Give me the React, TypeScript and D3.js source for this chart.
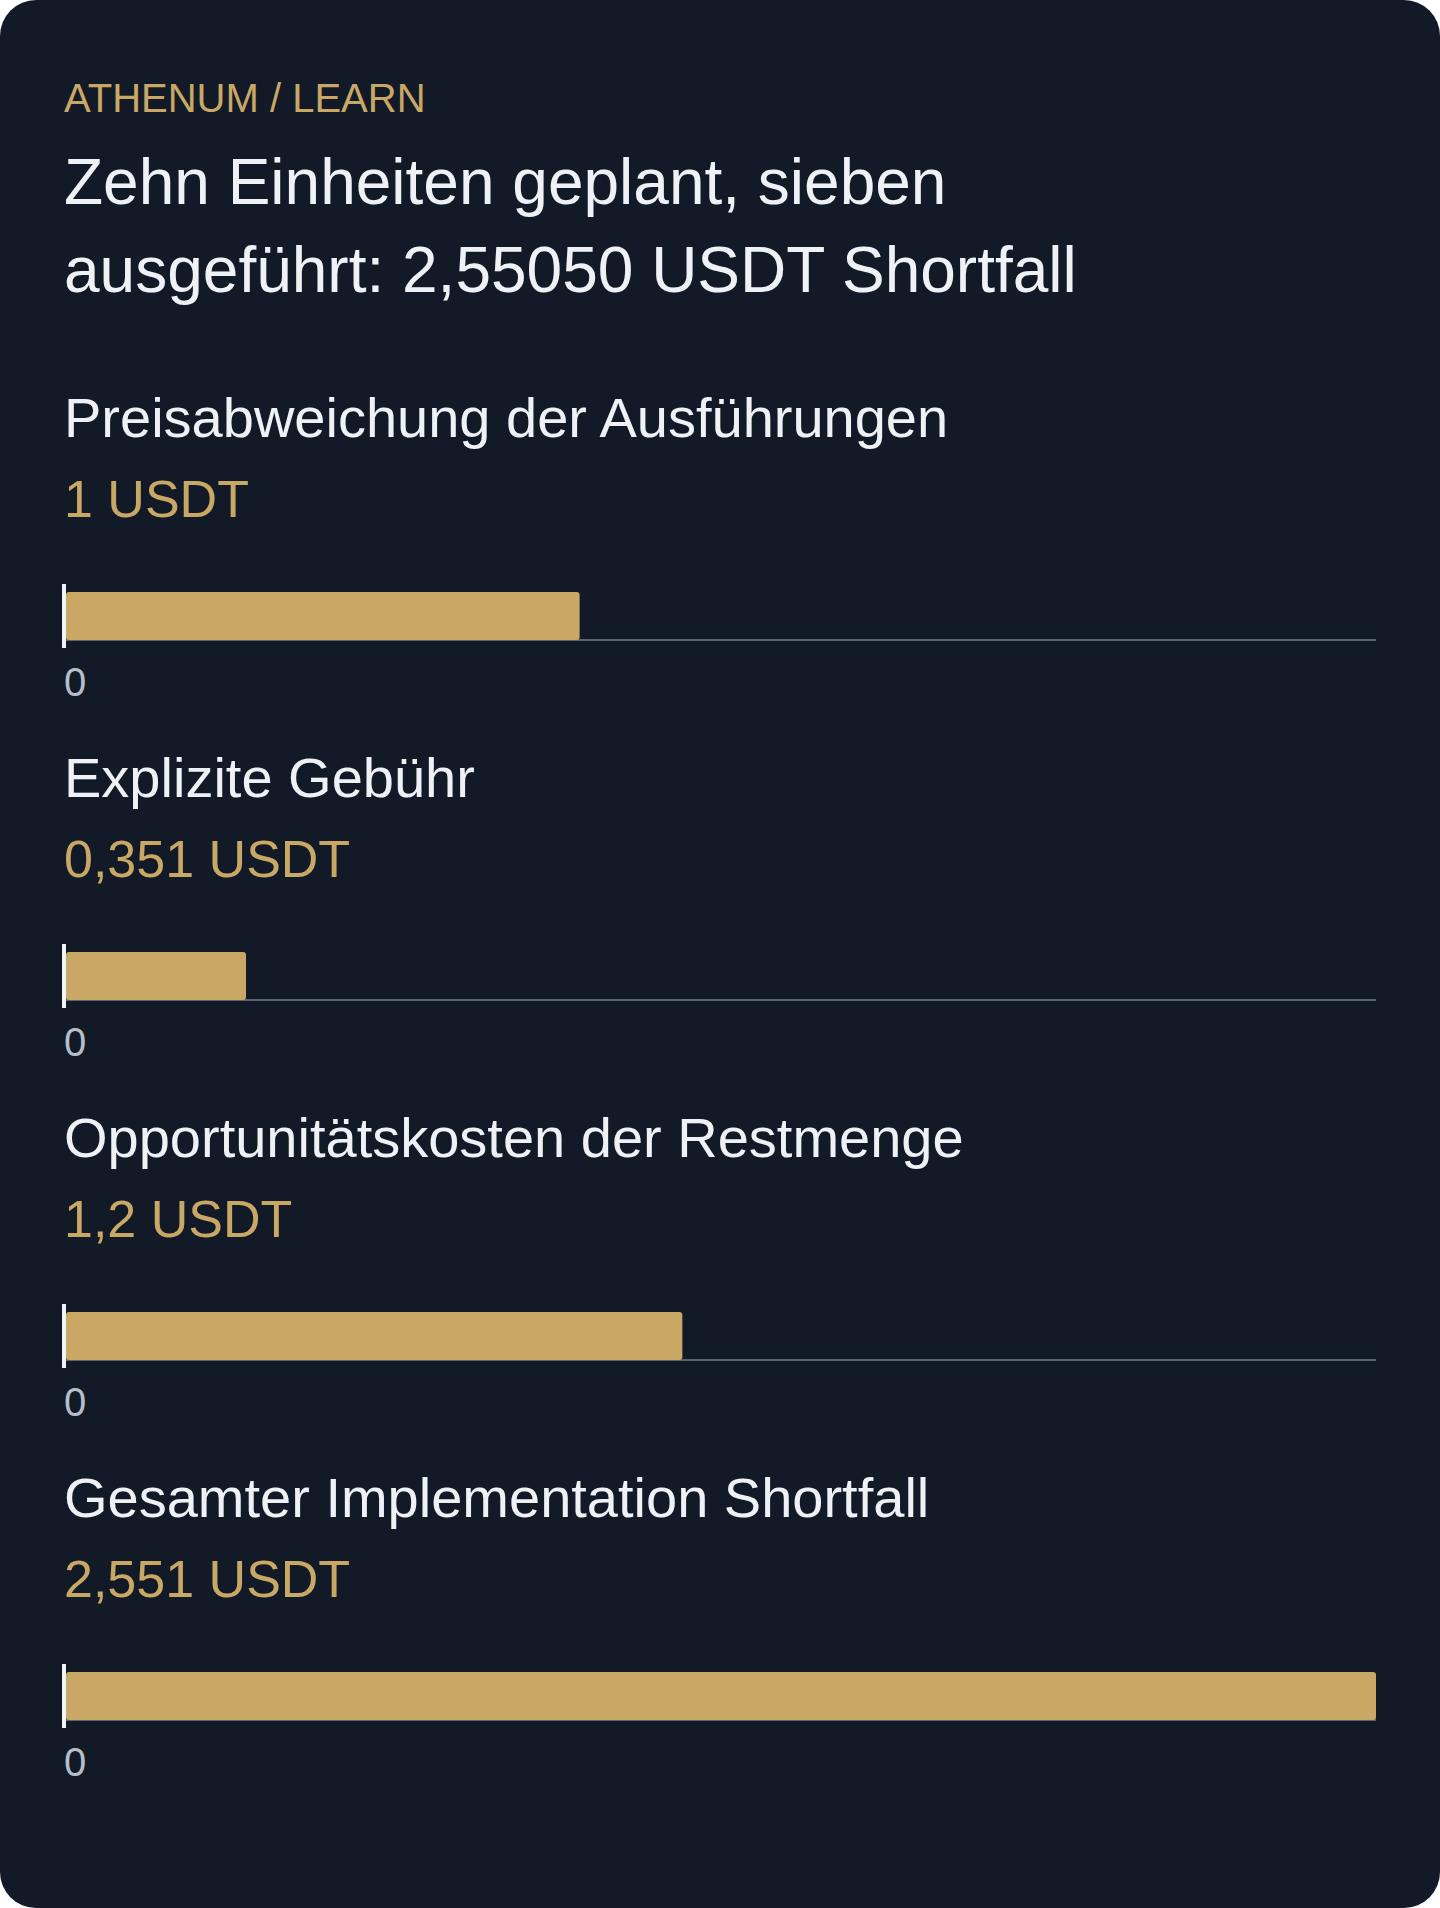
import { scaleBand, scaleLinear } from "d3";

const eyebrow = "ATHENUM / LEARN";
const titleLines = ["Zehn Einheiten geplant, sieben", "ausgeführt: 2,55050 USDT Shortfall"];
const categories = [
  "Preisabweichung der Ausführungen",
  "Explizite Gebühr",
  "Opportunitätskosten der Restmenge",
  "Gesamter Implementation Shortfall",
];
const values = [1, 0.3505, 1.2, 2.5505];
const valueLabels = ["1 USDT", "0,351 USDT", "1,2 USDT", "2,551 USDT"];
const tickLabels = ["0"];

const W = 1440;
const H = 1908;
const FONT = "'Liberation Sans', Arial, Helvetica, sans-serif";
const GOLD = "#c9a865";
const BG = "#131a27";

export default function App() {
  const left = 66;
  const right = 1376;
  const barH = 48;

  const x = scaleLinear().domain([0, values[3]]).range([left, right]);
  const rows = scaleBand<string>()
    .domain(categories)
    .range([592, 592 + categories.length * 360]);

  return (
    <div style={{ position: "absolute", left: 0, top: 0, width: W, height: H }}>
      <svg width={W} height={H} style={{ display: "block" }}>
        <rect x={0} y={0} width={W} height={H} rx={36} fill={BG} />
        <text x={64} y={112} fill={GOLD} fontSize={40} fontFamily={FONT}>
          {eyebrow}
        </text>
        {titleLines.map((t, i) => (
          <text
            key={t}
            x={64}
            y={204 + i * 88}
            fill="#eef1f6"
            fontSize={64}
            fontFamily={FONT}
          >
            {t}
          </text>
        ))}
        {categories.map((c, i) => {
          const y0 = rows(c) ?? 0;
          return (
            <g key={c}>
              <text x={64} y={y0 - 155} fill="#eef1f6" fontSize={56} fontFamily={FONT}>
                {c}
              </text>
              <text x={64} y={y0 - 75} fill={GOLD} fontSize={52} fontFamily={FONT}>
                {valueLabels[i]}
              </text>
              <line
                x1={x(0)}
                x2={x.range()[1]}
                y1={y0 + barH}
                y2={y0 + barH}
                stroke="#5b6674"
                strokeWidth={2}
              />
              <rect
                x={x(0)}
                y={y0}
                width={x(values[i]) - x(0)}
                height={barH}
                rx={3}
                fill={GOLD}
              />
              <rect x={x(0) - 4} y={y0 - 8} width={4} height={barH + 16} fill="#f1f3f7" />
              <text
                x={x(0) - 2}
                y={y0 + 104}
                fill="#b6bec9"
                fontSize={40}
                fontFamily={FONT}
              >
                {tickLabels[0]}
              </text>
            </g>
          );
        })}
      </svg>
    </div>
  );
}
